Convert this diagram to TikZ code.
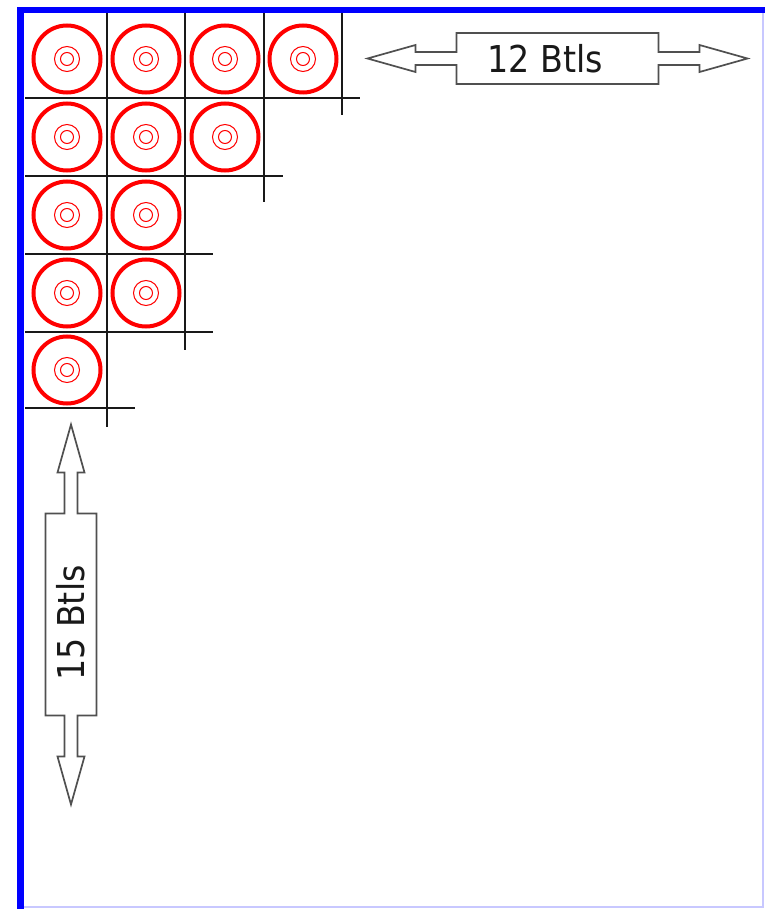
\documentclass[tikz,border=0pt]{standalone}
\usepackage{fontspec}
\newfontfamily\labfont{DejaVu Sans Condensed}
\definecolor{framelight}{RGB}{200,200,255}
\definecolor{arrowgray}{RGB}{80,80,80}
\begin{document}
\begin{tikzpicture}[x=1pt,y=-1pt,
  gridline/.style={black!90,line width=2.5pt},
  outerring/.style={circle,draw=red,line width=4pt,minimum size=67pt,inner sep=0pt},
  innerring/.style={red,line width=1pt},
  bigarrow/.style={draw=arrowgray,fill=white,line width=1.7pt,line join=miter},
  lab/.style={font=\labfont\fontsize{37}{40}\selectfont,text=black!90,inner sep=0pt}]
\useasboundingbox (0,0) rectangle (765,909);
\fill[white] (0,0) rectangle (765,909);
% frame
\draw[framelight,line width=1.5pt] (763,13) -- (763,907) -- (23,907);
\fill[blue] (17,7) rectangle (765,13.5);
\fill[blue] (17,7) rectangle (23.5,909);
% grid
\draw[gridline] (25,98) -- (360,98);
\draw[gridline] (25,176) -- (283,176);
\draw[gridline] (25,254) -- (213,254);
\draw[gridline] (25,332) -- (213,332);
\draw[gridline] (25,408) -- (135,408);
\draw[gridline] (107,13) -- (107,427);
\draw[gridline] (185,13) -- (185,350);
\draw[gridline] (264,13) -- (264,202);
\draw[gridline] (342,13) -- (342,115);
% bottles
\foreach \nm/\px/\py in {b11/67/59,b12/146/59,b13/225/59,b14/303/59,
                         b21/67/137,b22/146/137,b23/225/137,
                         b31/67/215,b32/146/215,
                         b41/67/293,b42/146/293,
                         b51/67/370}{
  \node[outerring] (\nm) at (\px,\py) {};
  \draw[innerring] (\nm.center) circle[radius=12.5pt];
  \draw[innerring] (\nm.center) circle[radius=6.5pt];
}
% horizontal arrow
\begin{scope}[shift={(557.5,58.5)}]
\draw[bigarrow] (-190,0) -- (-142,13.5) -- (-142,6.5) -- (-101,6.5) -- (-101,25.5)
  -- (101,25.5) -- (101,6.5) -- (142,6.5) -- (142,13.5) -- (190,0)
  -- (142,-13.5) -- (142,-6.5) -- (101,-6.5) -- (101,-25.5) -- (-101,-25.5)
  -- (-101,-6.5) -- (-142,-6.5) -- (-142,-13.5) -- cycle;
\end{scope}
\node[lab] (t12) at (545,58.5) {12 Btls};
% vertical arrow
\begin{scope}[shift={(71,614.5)}]
\draw[bigarrow] (0,-190) -- (13.5,-142) -- (6.5,-142) -- (6.5,-101) -- (25.5,-101)
  -- (25.5,101) -- (6.5,101) -- (6.5,142) -- (13.5,142) -- (0,190)
  -- (-13.5,142) -- (-6.5,142) -- (-6.5,101) -- (-25.5,101) -- (-25.5,-101)
  -- (-6.5,-101) -- (-6.5,-142) -- (-13.5,-142) -- cycle;
\end{scope}
\node[lab,rotate=90] (t15) at (71,623) {15 Btls};
\end{tikzpicture}
\end{document}
